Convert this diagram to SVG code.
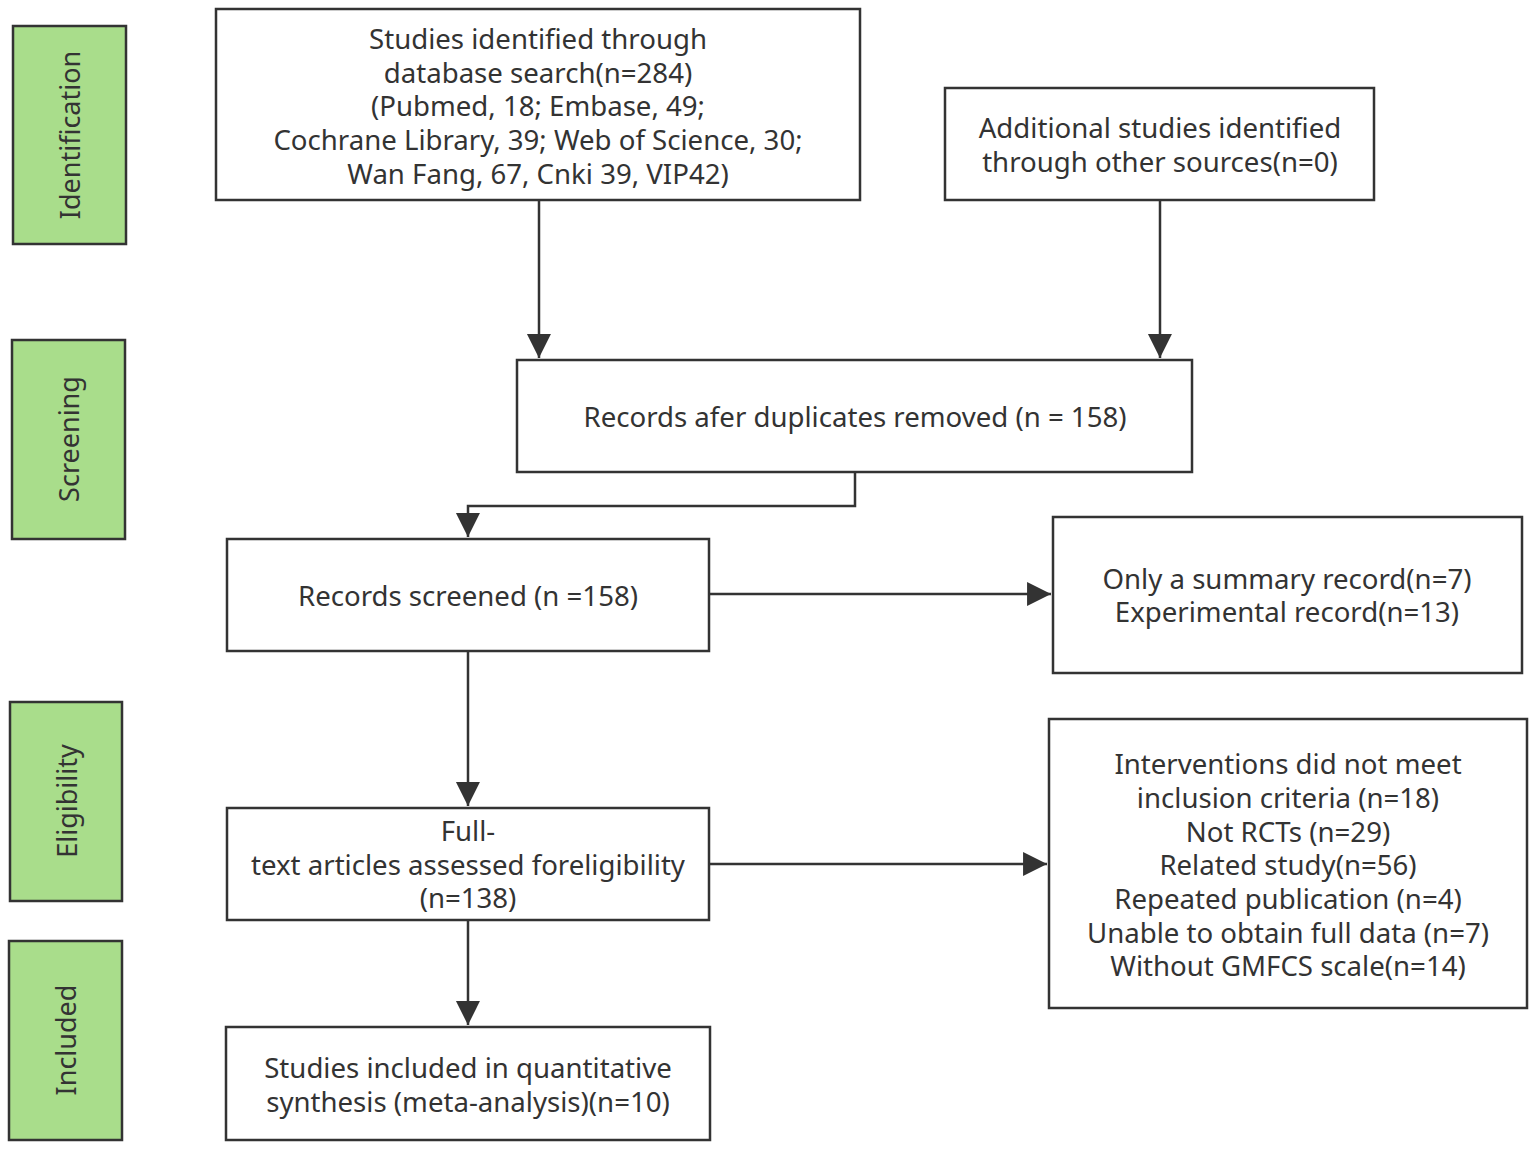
<svg xmlns="http://www.w3.org/2000/svg" width="1536" height="1150" viewBox="0 0 1536 1150">
<defs>
<marker id="arr" viewBox="0 0 10 10" refX="10" refY="5" markerWidth="10" markerHeight="10" markerUnits="userSpaceOnUse" orient="auto" style="overflow:visible">
<path d="M0,0 L10,5 L0,10 Z" fill="#333" transform="scale(2.4) translate(-5.8,-2.9)"/>
</marker>
<style>
.box{fill:#fff;stroke:#333;stroke-width:2.5}
.stage{fill:#a9dd8b;stroke:#333;stroke-width:2.5}
.t{font-family:"Noto Sans","Open Sans",sans-serif;font-size:27.6px;fill:#333;text-anchor:middle}
.st{font-family:"Noto Sans","Open Sans",sans-serif;font-size:27px;fill:#333;text-anchor:middle}
.c{fill:none;stroke:#333;stroke-width:2.5}
</style>
</defs>
<rect width="1536" height="1150" fill="#fff"/>
<g id="stage-identification"><rect class="stage" x="13" y="26" width="113" height="218"/><text class="st" transform="translate(80,135) rotate(-90)">Identification</text></g>
<g id="stage-screening"><rect class="stage" x="12" y="340" width="113" height="199"/><text class="st" transform="translate(79,439) rotate(-90)">Screening</text></g>
<g id="stage-eligibility"><rect class="stage" x="10" y="702" width="112" height="199"/><text class="st" transform="translate(77,801) rotate(-90)">Eligibility</text></g>
<g id="stage-included"><rect class="stage" x="9" y="941" width="113" height="199"/><text class="st" transform="translate(76,1040) rotate(-90)">Included</text></g>

<g id="node-database"><rect class="box" x="216" y="9" width="644" height="191"/>
<text class="t" x="538" y="49">Studies identified through</text>
<text class="t" x="538" y="83">database search(n=284)</text>
<text class="t" x="538" y="116">(Pubmed, 18; Embase, 49;</text>
<text class="t" x="538" y="150">Cochrane Library, 39; Web of Science, 30;</text>
<text class="t" x="538" y="184">Wan Fang, 67, Cnki 39, VIP42)</text></g>
<g id="node-other"><rect class="box" x="945" y="88" width="429" height="112"/>
<text class="t" x="1160" y="138">Additional studies identified</text>
<text class="t" x="1160" y="172">through other sources(n=0)</text></g>
<g id="node-dedup"><rect class="box" x="517" y="360" width="675" height="112"/>
<text class="t" x="855" y="427">Records afer duplicates removed (n = 158)</text></g>
<g id="node-screened"><rect class="box" x="227" y="539" width="482" height="112"/>
<text class="t" x="468" y="606">Records screened (n =158)</text></g>
<g id="node-excluded1"><rect class="box" x="1053" y="517" width="469" height="156"/>
<text class="t" x="1287" y="589">Only a summary record(n=7)</text>
<text class="t" x="1287" y="622">Experimental record(n=13)</text></g>
<g id="node-fulltext"><rect class="box" x="227" y="808" width="482" height="112"/>
<text class="t" x="468" y="841">Full-</text>
<text class="t" x="468" y="875">text articles assessed foreligibility</text>
<text class="t" x="468" y="908">(n=138)</text></g>
<g id="node-excluded2"><rect class="box" x="1049" y="719" width="478" height="289"/>
<text class="t" x="1288" y="774">Interventions did not meet</text>
<text class="t" x="1288" y="808">inclusion criteria (n=18)</text>
<text class="t" x="1288" y="842">Not RCTs (n=29)</text>
<text class="t" x="1288" y="875">Related study(n=56)</text>
<text class="t" x="1288" y="909">Repeated publication (n=4)</text>
<text class="t" x="1288" y="943">Unable to obtain full data (n=7)</text>
<text class="t" x="1288" y="976">Without GMFCS scale(n=14)</text></g>
<g id="node-included"><rect class="box" x="226" y="1027" width="484" height="113"/>
<text class="t" x="468" y="1078">Studies included in quantitative</text>
<text class="t" x="468" y="1112">synthesis (meta-analysis)(n=10)</text></g>

<g id="connectors">
<path class="c" d="M539,200 V358" marker-end="url(#arr)"/>
<path class="c" d="M1160,200 V358" marker-end="url(#arr)"/>
<path class="c" d="M855,472 V506 H468 V537" marker-end="url(#arr)"/>
<path class="c" d="M709,594 H1051" marker-end="url(#arr)"/>
<path class="c" d="M468,651 V806" marker-end="url(#arr)"/>
<path class="c" d="M709,864 H1047" marker-end="url(#arr)"/>
<path class="c" d="M468,920 V1025" marker-end="url(#arr)"/>
</g>
</svg>
